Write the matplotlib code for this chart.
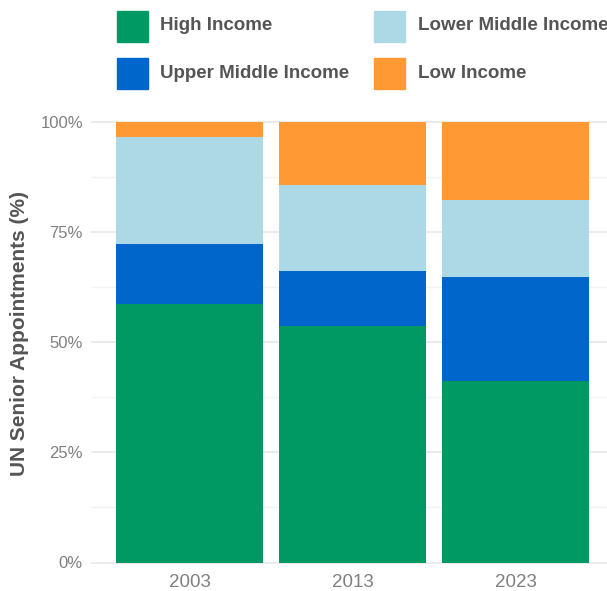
import matplotlib
matplotlib.use("Agg")
import matplotlib.pyplot as plt
from matplotlib.patches import Rectangle
from matplotlib.ticker import FixedLocator

# shares of UN senior appointments by income group (%)
years = ["2003", "2013", "2023"]
high_income = [58.6, 53.6, 41.2]
upper_middle = [13.6, 12.5, 23.5]
lower_middle = [24.3, 19.5, 17.5]
low_income = [3.5, 14.4, 17.8]

groups = ["High Income", "Upper Middle Income", "Lower Middle Income", "Low Income"]
colors = ["#009963", "#0066CC", "#ADD8E6", "#FF9933"]
y_ticks = [0, 25, 50, 75, 100]
y_tick_labels = ["0%", "25%", "50%", "75%", "100%"]

plt.rcParams['font.family'] = ['Liberation Sans', 'DejaVu Sans']

W, H = 607, 591
fig = plt.figure(figsize=(W / 100, H / 100), dpi=100)

# panel spans past the right edge, as in the reference
left, right, bottom, top = 92, 613.3, 562.5, 121.5
ax = fig.add_axes([left / W, (H - bottom) / H, (right - left) / W, (bottom - top) / H])

x = [1, 2, 3]
base = [0.0, 0.0, 0.0]
for vals, col in zip([high_income, upper_middle, lower_middle, low_income], colors):
    ax.bar(x, vals, bottom=base, width=0.9, color=col, zorder=3)
    base = [b + v for b, v in zip(base, vals)]

ax.set_xlim(0.4, 3.6)
ax.set_ylim(0, 100)
ax.set_xticks(x)
ax.set_xticklabels(years)
ax.set_yticks(y_ticks)
ax.set_yticklabels(y_tick_labels)
ax.yaxis.set_minor_locator(FixedLocator([12.5, 37.5, 62.5, 87.5]))

ax.grid(axis='y', which='major', color='#EBEBEB', linewidth=1.4, zorder=0)
ax.grid(axis='y', which='minor', color='#F3F3F3', linewidth=1.0, zorder=0)
for gl in ax.get_ygridlines():
    gl.set_clip_on(False)
for s in ax.spines.values():
    s.set_visible(False)
ax.tick_params(axis='both', which='both', length=0, labelcolor='#808080')
ax.tick_params(axis='y', labelsize=12, pad=6.5)
ax.tick_params(axis='x', labelsize=13.5, pad=8)

fig.text(20 / W, (H - 334) / H, "UN Senior Appointments (%)", rotation=90,
         ha='center', va='center', fontsize=15, fontweight='bold', color='#555555')

# legend, two columns
legend_pos = [(117, 26.5), (117, 73.5), (374, 26.5), (374, 73.5)]
for (lx, ly), name, col in zip(legend_pos, groups, colors):
    fig.patches.append(Rectangle((lx / W, (H - ly - 15.5) / H), 31 / W, 31 / H,
                                 transform=fig.transFigure, color=col, figure=fig))
    fig.text((lx + 43.5) / W, (H - ly + 0.5) / H, name, ha='left', va='center',
             fontsize=13.5, fontweight='bold', color='#555555')

fig.savefig("out.png", dpi=100)
